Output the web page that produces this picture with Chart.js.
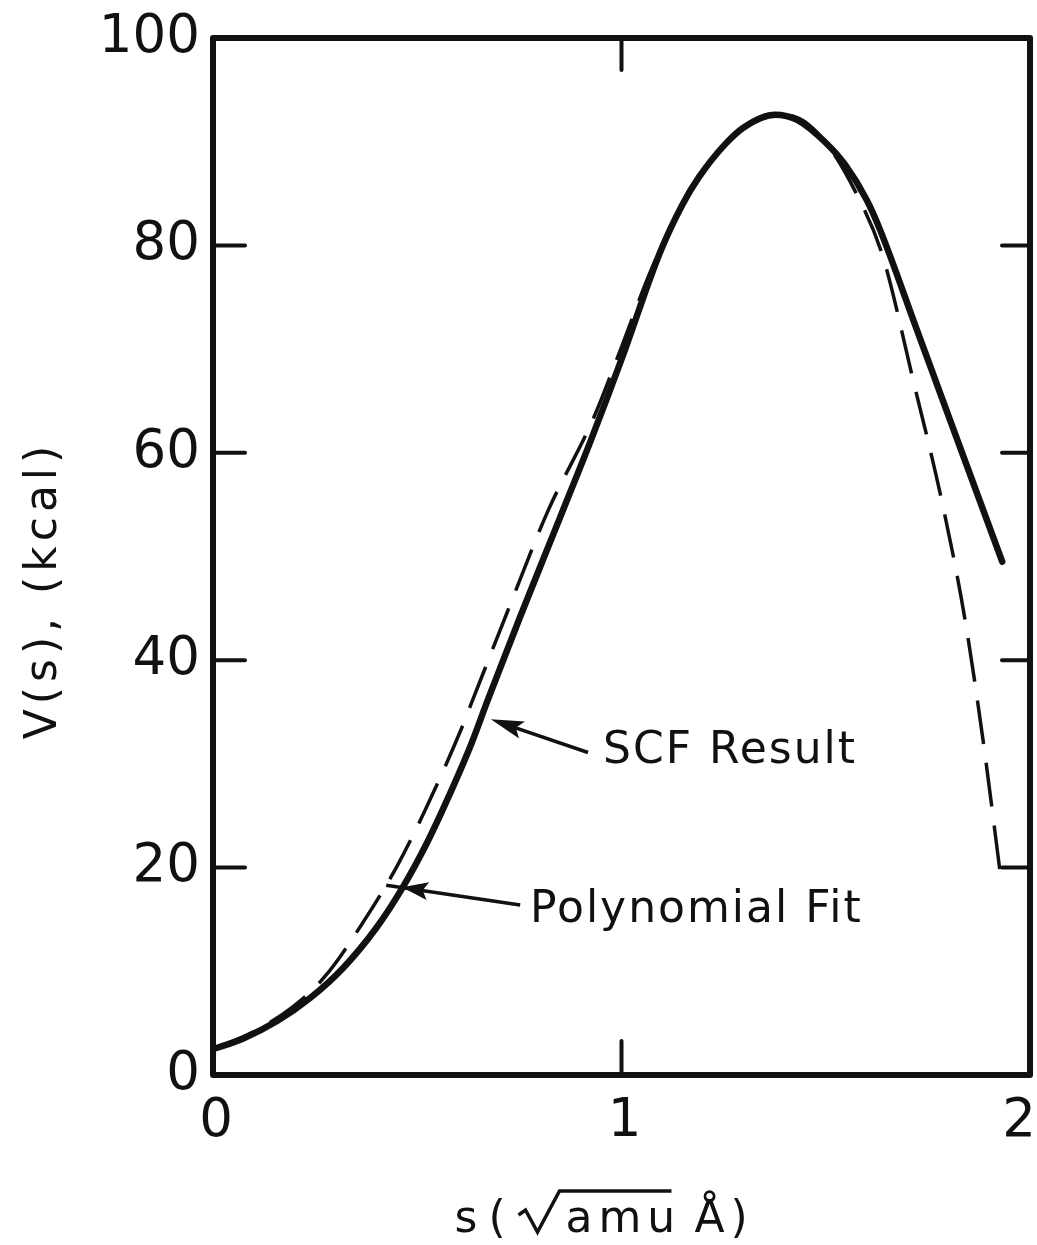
<!DOCTYPE html>
<html>
<head>
<meta charset="utf-8">
<title>V(s) along the reaction path</title>
<script src="https://cdn.jsdelivr.net/npm/chart.js@4.4.1/dist/chart.umd.min.js"></script>
<style>
  html, body { margin: 0; padding: 0; background: #fff; }
  #wrap { width: 1037px; height: 1245px; position: relative; }
</style>
</head>
<body>
<div id="wrap"><canvas id="pathChart"></canvas></div>
<script>
// reaction coordinate s (sqrt(amu) Å) and energies V(s) in kcal

const scfS = [0, 0.073, 0.157, 0.237, 0.318, 0.40, 0.463, 0.524, 0.573, 0.629, 0.673, 0.75, 0.85, 0.925,
              1.0, 1.094, 1.15, 1.19, 1.25, 1.30, 1.376, 1.43, 1.50, 1.547, 1.60, 1.633, 1.72, 1.80, 1.932];
const scfV = [2.5, 3.5, 5.2, 7.4, 10.3, 14.2, 18.0, 22.4, 26.5, 31.6, 36.2, 44.0, 53.8, 61.2,
              69.0, 79.3, 84.0, 86.6, 89.6, 91.4, 92.6, 92.1, 89.9, 87.8, 84.4, 81.5, 72.2, 63.6, 49.5];

const fitS = [0, 0.10, 0.196, 0.274, 0.367, 0.45, 0.52, 0.605, 0.636, 0.72, 0.82, 0.93, 1.0,
              1.07, 1.13, 1.19, 1.27, 1.34, 1.41, 1.49, 1.58, 1.64, 1.714, 1.785, 1.841, 1.885, 1.927];
const fitV = [2.5, 4.2, 6.6, 9.5, 14.7, 20.1, 25.6, 33.1, 36.2, 44.6, 54.4, 63.2, 70.2,
              77.4, 82.4, 86.6, 90.5, 92.2, 92.5, 90.4, 84.6, 78.9, 67.0, 55.2, 43.9, 32.3, 19.5];

const xTicks = [0, 1, 2];
const yTicks = [0, 20, 40, 60, 80, 100];
const xInnerTicks = [1];
const yInnerTicks = [20, 40, 60, 80];

const ink = '#111';
const face = '"DejaVu Sans", "Liberation Sans", sans-serif';

const toPoints = (xs, ys) => xs.map((v, i) => ({ x: v, y: ys[i] }));

// callouts: text anchor, arrow tail, arrow tip, optional shaft end
const callouts = [
  { text: 'SCF Result', at: [0.955, 30.1], tail: [0.918, 31.1], tip: [0.680, 34.3], end: null, head: 33 },
  { text: 'Polynomial Fit', at: [0.776, 14.75], tail: [0.752, 16.4], tip: [0.463, 18.1], end: [0.424, 18.3], head: 26 }
];

function seg(ctx, x1, y1, x2, y2) {
  ctx.beginPath();
  ctx.moveTo(x1, y1);
  ctx.lineTo(x2, y2);
  ctx.stroke();
}

const decor = {
  id: 'decor',
  afterDatasetsDraw(chart) {
    const { ctx, chartArea: a, scales: { x, y } } = chart;
    ctx.save();
    ctx.strokeStyle = ink;
    ctx.fillStyle = ink;
    ctx.lineCap = 'round';

    // frame
    ctx.lineWidth = 6;
    ctx.lineJoin = 'round';
    ctx.strokeRect(a.left, a.top, a.right - a.left, a.bottom - a.top);

    // inward tick marks
    ctx.lineWidth = 4;
    yInnerTicks.forEach(v => {
      const py = y.getPixelForValue(v);
      seg(ctx, a.left, py, a.left + 32, py);
      seg(ctx, a.right, py, a.right - 28, py);
    });
    xInnerTicks.forEach(v => {
      const px = x.getPixelForValue(v);
      seg(ctx, px, a.top, px, a.top + 32);
      seg(ctx, px, a.bottom, px, a.bottom - 34);
    });

    // x tick labels
    ctx.font = '53px ' + face;
    ctx.textAlign = 'center';
    ctx.textBaseline = 'alphabetic';
    xTicks.forEach(v => {
      const s = String(v);
      const w = ctx.measureText(s).width;
      const px = Math.min(x.getPixelForValue(v) + 3, chart.width - w / 2 - 1);
      ctx.fillText(s, px, a.bottom + 61);
    });

    // y axis title
    ctx.save();
    ctx.font = '44px ' + face;
    ctx.letterSpacing = '5px';
    ctx.translate(56, 590);
    ctx.rotate(-Math.PI / 2);
    ctx.textAlign = 'center';
    ctx.fillText('V(s), (kcal)', 0, 0);
    ctx.restore();

    // x axis title: s ( sqrt(amu) Å ), radical drawn as a stroke
    ctx.save();
    const cx = (a.left + a.right) / 2;
    const by = 1232;
    ctx.font = '44px ' + face;
    ctx.letterSpacing = '6px';
    ctx.textAlign = 'left';
    ctx.fillText('s', cx - 167, by);
    ctx.fillText('(', cx - 133, by);
    ctx.fillText('amu', cx - 56, by);
    ctx.fillText('\u00C5)', cx + 73, by);
    ctx.lineWidth = 3.5;
    ctx.lineJoin = 'miter';
    ctx.lineCap = 'butt';
    ctx.beginPath();
    ctx.moveTo(cx - 103, by - 17);
    ctx.lineTo(cx - 96, by - 22);
    ctx.lineTo(cx - 84, by);
    ctx.lineTo(cx - 62, by - 41);
    ctx.lineTo(cx + 50, by - 41);
    ctx.stroke();
    ctx.restore();

    // callouts
    callouts.forEach(c => {
      const tx0 = x.getPixelForValue(c.tail[0]), ty0 = y.getPixelForValue(c.tail[1]);
      const tx1 = x.getPixelForValue(c.tip[0]), ty1 = y.getPixelForValue(c.tip[1]);
      const ang = Math.atan2(ty1 - ty0, tx1 - tx0);
      ctx.lineWidth = 3.5;
      ctx.lineCap = 'butt';
      if (c.end) {
        seg(ctx, tx0, ty0, x.getPixelForValue(c.end[0]), y.getPixelForValue(c.end[1]));
      } else {
        seg(ctx, tx0, ty0, tx1 - Math.cos(ang) * 10, ty1 - Math.sin(ang) * 10);
      }
      const h = c.head, hw = 9;
      ctx.beginPath();
      ctx.moveTo(tx1, ty1);
      ctx.lineTo(tx1 - h * Math.cos(ang) + hw * Math.sin(ang), ty1 - h * Math.sin(ang) - hw * Math.cos(ang));
      ctx.lineTo(tx1 - h * 0.8 * Math.cos(ang), ty1 - h * 0.8 * Math.sin(ang));
      ctx.lineTo(tx1 - h * Math.cos(ang) - hw * Math.sin(ang), ty1 - h * Math.sin(ang) + hw * Math.cos(ang));
      ctx.closePath();
      ctx.fill();

      ctx.font = '44px ' + face;
      ctx.letterSpacing = '2px';
      ctx.textAlign = 'left';
      ctx.fillText(c.text, x.getPixelForValue(c.at[0]), y.getPixelForValue(c.at[1]));
    });

    ctx.restore();
  }
};

Chart.defaults.font.family = face;
Chart.defaults.color = ink;

new Chart(document.getElementById('pathChart'), {
  type: 'line',
  data: {
    datasets: [
      {
        label: 'SCF Result',
        data: toPoints(scfS, scfV),
        borderColor: ink,
        borderWidth: 6.5,
        pointRadius: 0,
        cubicInterpolationMode: 'monotone',
        borderCapStyle: 'round'
      },
      {
        label: 'Polynomial Fit',
        data: toPoints(fitS, fitV),
        borderColor: ink,
        borderWidth: 3.5,
        borderDash: [44, 19],
        pointRadius: 0,
        cubicInterpolationMode: 'monotone'
      }
    ]
  },
  options: {
    responsive: true,
    maintainAspectRatio: false,
    animation: false,
    layout: { padding: { top: 38, right: 7, left: 0, bottom: 0 } },
    plugins: {
      legend: { display: false },
      tooltip: { enabled: false }
    },
    scales: {
      x: {
        type: 'linear',
        min: 0,
        max: 2,
        grid: { display: false },
        border: { display: false },
        ticks: { display: false },
        afterFit: s => { s.height = 170; s.paddingLeft = 0; s.paddingRight = 0; }
      },
      y: {
        min: 0,
        max: 100,
        grid: { display: false },
        border: { display: false },
        afterBuildTicks: s => { s.ticks = yTicks.map(v => ({ value: v })); },
        ticks: {
          padding: 5,
          color: ink,
          font: { size: 53, family: face }
        },
        afterFit: s => { s.width = 213; }
      }
    }
  },
  plugins: [decor]
});
</script>
</body>
</html>
